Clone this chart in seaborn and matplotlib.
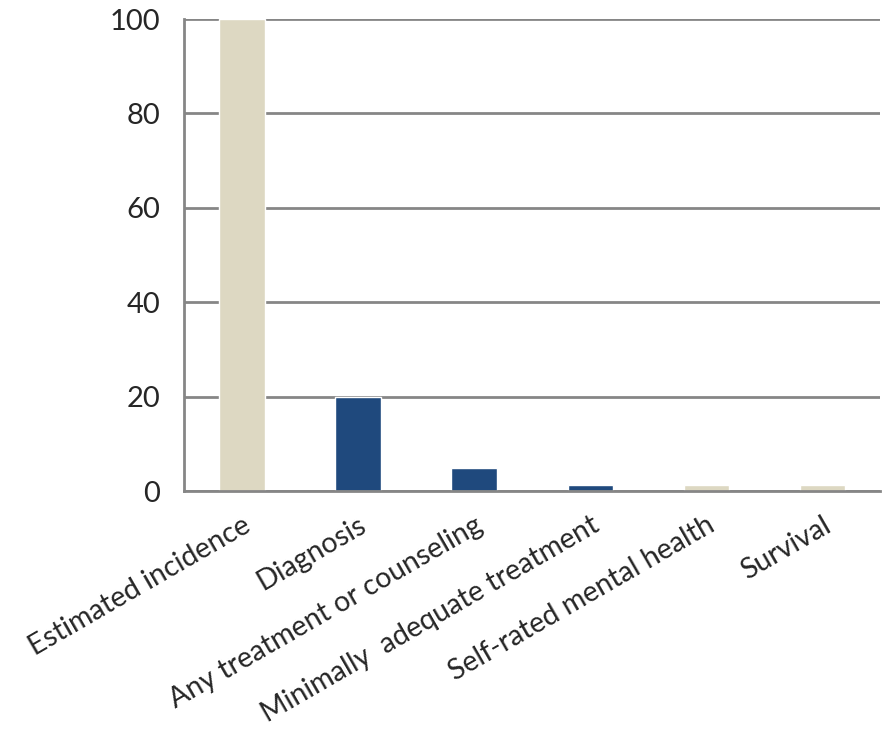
import numpy as np
import pandas as pd
import matplotlib
matplotlib.use("Agg")
import matplotlib.pyplot as plt
import seaborn as sns

categories = ["Estimated incidence", "Diagnosis", "Any treatment or counseling",
              "Minimally  adequate treatment", "Self-rated mental health", "Survival"]
values = [100, 20, 5, 1.3, 1.3, 1.3]
bar_colors = ["#DDD8C2", "#1F497D", "#1F497D", "#1F497D", "#DDD8C2", "#DDD8C2"]
y_ticks = [0, 20, 40, 60, 80, 100]

sns.set_style("white")
plt.rcParams['font.family'] = ['Lato', 'DejaVu Sans']

df = pd.DataFrame({"cat": categories, "val": values})

fig = plt.figure(figsize=(8.84, 7.31), dpi=100)
ax = fig.add_axes([0.208, 0.328, 0.788, 0.646])
sns.barplot(data=df, x="cat", y="val", hue="cat", palette=bar_colors,
            width=0.39, legend=False, ax=ax, saturation=1)

grid_c = "#868686"
ax.set_ylim(0, 100)
ax.set_xlim(-0.5, len(categories) - 0.5)
ax.set_yticks(y_ticks)
ax.yaxis.grid(True, color=grid_c, linewidth=2)
ax.set_axisbelow(True)
for s in ["top", "right"]:
    ax.spines[s].set_visible(False)
for s in ["left", "bottom"]:
    ax.spines[s].set_color(grid_c)
    ax.spines[s].set_linewidth(2)

ax.set_xticks(np.arange(len(categories)))
ax.set_xticklabels(categories, rotation=30, ha="right", rotation_mode="anchor", fontsize=20.5)
ax.set_xticks(np.arange(len(categories)) - 0.5, minor=True)
ax.tick_params(axis="x", which="major", length=0, pad=15)
ax.tick_params(axis="x", which="minor", length=9, width=2, color=grid_c, direction="out")
ax.tick_params(axis="y", length=8, width=2, color=grid_c, direction="out", labelsize=21, pad=9)
ax.set_xlabel("")
ax.set_ylabel("")

fig.savefig("out.png", dpi=100)
